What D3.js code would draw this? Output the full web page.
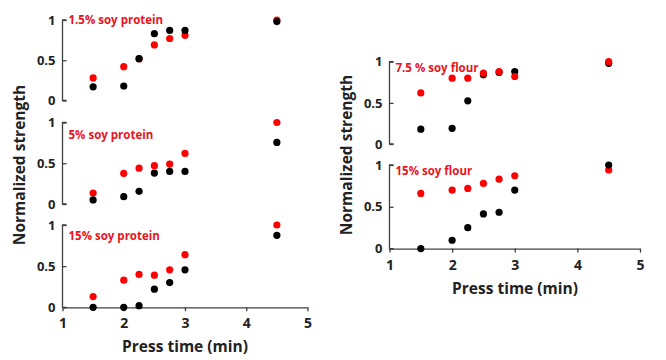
<!DOCTYPE html>
<html>
<head>
<meta charset="utf-8">
<script src="https://cdn.jsdelivr.net/npm/d3@7"></script>
<style>
  body { margin: 0; background: #fff; }
  svg { display: block; }
  text { font-family: "Open Sans", "Liberation Sans", sans-serif; font-weight: 700; }
</style>
</head>
<body>
<div id="chart"></div>
<script>
// press time (min), same for every panel
const pressTime = [1.5, 2, 2.25, 2.5, 2.75, 3, 4.5];

// normalized strength
const soyProtein15Black = [0.17, 0.18, 0.52, 0.83, 0.87, 0.87, 0.98];
const soyProtein15Red = [0.28, 0.42, 0.52, 0.69, 0.77, 0.81, 1.0];
const soyProtein5Black = [0.05, 0.09, 0.155, 0.38, 0.40, 0.40, 0.755];
const soyProtein5Red = [0.135, 0.375, 0.44, 0.47, 0.49, 0.62, 1.0];
const soyProteinHighBlack = [0.0, 0.0, 0.02, 0.22, 0.30, 0.455, 0.875];
const soyProteinHighRed = [0.13, 0.33, 0.40, 0.39, 0.455, 0.64, 1.0];
const soyFlour75Black = [0.18, 0.19, 0.525, 0.84, 0.87, 0.88, 0.98];
const soyFlour75Red = [0.62, 0.80, 0.80, 0.86, 0.88, 0.82, 1.0];
const soyFlour15Black = [0.0, 0.10, 0.25, 0.415, 0.435, 0.70, 1.0];
const soyFlour15Red = [0.66, 0.70, 0.72, 0.78, 0.83, 0.87, 0.94];

const xTicks = [1, 2, 3, 4, 5];
const yTicks = [0, 0.5, 1];

const width = 666, height = 360;
const axisColor = '#404040';
const red = '#ff0000';

const svg = d3.select('#chart').append('svg')
  .attr('width', width)
  .attr('height', height);

const leftX = d3.scaleLinear().domain([1, 5]).range([62.5, 307.5]);
const rightX = d3.scaleLinear().domain([1, 5]).range([389.5, 640]);

const panels = [
  { label: '1.5% soy protein', black: soyProtein15Black, red: soyProtein15Red, x: leftX, y0: 100.5, y1: 20, labelY: 24, redOnTop: false },
  { label: '5% soy protein', black: soyProtein5Black, red: soyProtein5Red, x: leftX, y0: 204, y1: 122.5, labelY: 139, redOnTop: false },
  { label: '15% soy protein', black: soyProteinHighBlack, red: soyProteinHighRed, x: leftX, y0: 307.3, y1: 225, labelY: 240, redOnTop: false, xAxis: true },
  { label: '7.5 % soy flour', black: soyFlour75Black, red: soyFlour75Red, x: rightX, y0: 144, y1: 61.7, labelY: 72, redOnTop: true },
  { label: '15% soy flour', black: soyFlour15Black, red: soyFlour15Red, x: rightX, y0: 248.6, y1: 165, labelY: 175, redOnTop: false, xAxis: true }
];

panels.forEach((p) => {
  const y = d3.scaleLinear().domain([0, 1]).range([p.y0, p.y1]);
  const x0 = p.x.range()[0];

  const yAxis = svg.append('g')
    .attr('transform', `translate(${x0},0)`)
    .call(d3.axisRight(y).tickValues(yTicks).tickSize(4).tickFormat(d3.format('')));
  yAxis.select('.domain').attr('d', `M4,${p.y1}H0V${p.y0}H4`);
  yAxis.selectAll('path, line').attr('stroke', axisColor).attr('stroke-width', 1.3);
  yAxis.selectAll('text')
    .attr('x', -7)
    .attr('text-anchor', 'end')
    .attr('fill', '#222')
    .style('font-size', '13px');

  if (p.xAxis) {
    const xAxis = svg.append('g')
      .attr('transform', `translate(0,${p.y0})`)
      .call(d3.axisBottom(p.x).tickValues(xTicks).tickSize(4).tickSizeOuter(0).tickFormat(d3.format('d')));
    xAxis.selectAll('path, line').attr('stroke', axisColor).attr('stroke-width', 1.3);
    xAxis.selectAll('text')
      .attr('y', 11)
      .attr('fill', '#222')
      .style('font-size', '14px');
  }

  svg.append('text')
    .attr('x', x0 + 6)
    .attr('y', p.labelY)
    .attr('fill', '#e8141c')
    .style('font-size', '11.5px')
    .text(p.label);

  const series = p.redOnTop
    ? [[p.black, '#000'], [p.red, red]]
    : [[p.red, red], [p.black, '#000']];
  series.forEach(([vals, color]) => {
    svg.append('g').selectAll('circle')
      .data(vals)
      .join('circle')
        .attr('cx', (d, i) => p.x(pressTime[i]))
        .attr('cy', (d) => y(d))
        .attr('r', 3.6)
        .attr('fill', color);
  });
});

// axis titles
svg.append('text')
  .attr('x', 185).attr('y', 352)
  .attr('text-anchor', 'middle')
  .attr('fill', '#222')
  .style('font-size', '15.5px')
  .text('Press time (min)');

svg.append('text')
  .attr('x', 515).attr('y', 294)
  .attr('text-anchor', 'middle')
  .attr('fill', '#222')
  .style('font-size', '15.5px')
  .text('Press time (min)');

svg.append('text')
  .attr('transform', 'translate(25,165) rotate(-90)')
  .attr('text-anchor', 'middle')
  .attr('fill', '#222')
  .style('font-size', '15.5px')
  .text('Normalized strength');

svg.append('text')
  .attr('transform', 'translate(352,155) rotate(-90)')
  .attr('text-anchor', 'middle')
  .attr('fill', '#222')
  .style('font-size', '15.5px')
  .text('Normalized strength');
</script>
</body>
</html>
